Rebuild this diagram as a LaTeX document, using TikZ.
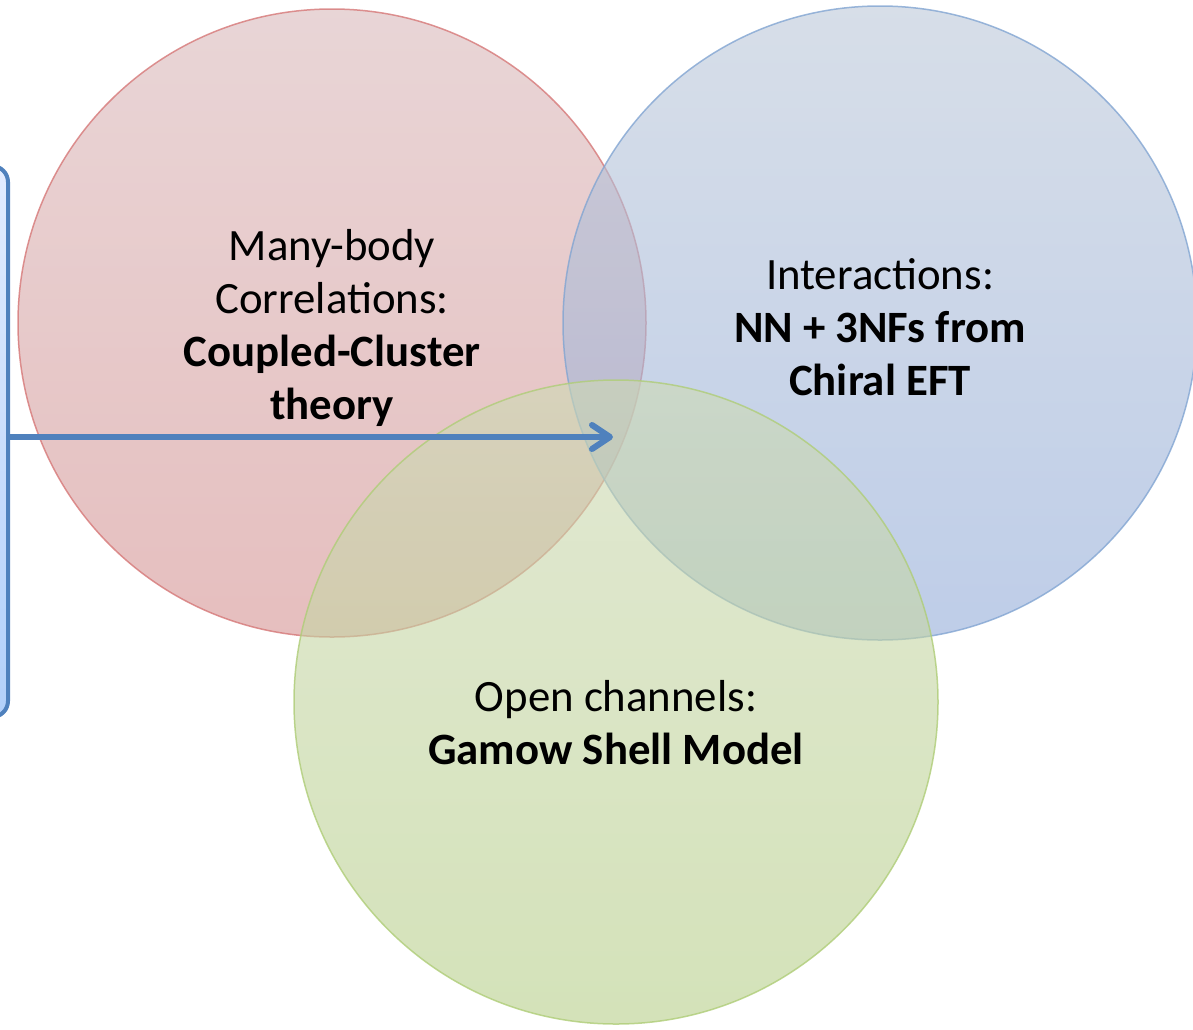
\documentclass[tikz,border=0pt]{standalone}
\usepackage{fontspec}
\setmainfont{Carlito}
\usetikzlibrary{arrows.meta}

\definecolor{redtop}{RGB}{217,185,187}
\definecolor{redbot}{RGB}{213,147,147}
\definecolor{redline}{RGB}{214,120,120}
\definecolor{bluetop}{RGB}{188,200,217}
\definecolor{bluebot}{RGB}{147,172,217}
\definecolor{blueline}{RGB}{130,165,210}
\definecolor{greentop}{RGB}{205,217,180}
\definecolor{greenbot}{RGB}{183,207,138}
\definecolor{greenline}{RGB}{175,205,120}
\definecolor{boxtop}{RGB}{226,236,255}
\definecolor{boxbot}{RGB}{178,208,250}
\definecolor{arrowblue}{RGB}{79,129,189}

\begin{document}
\begin{tikzpicture}[x=0.5pt, y=-0.5pt, >=latex, thick,
    venn/.style={circle, draw, line width=0.75pt, minimum size=#1,
        inner sep=0pt, outer sep=0pt, fill opacity=0.6, draw opacity=0.8},
    venntext/.style={align=center, font=\fontsize{22.4}{26.5}\selectfont}]
    \useasboundingbox (0,0) rectangle (1193,1029);
    \clip (0,0) rectangle (1193,1029);

    % Side box (cut off at the left)
    \node[draw=arrowblue, line width=2pt, rounded corners=8pt,
          top color=boxtop, bottom color=boxbot,
          minimum width=24pt, minimum height=275.5pt] (box) at (-16,441.5) {};

    % Correlations circle
    \node[venn=314pt, draw=redline, top color=redtop, bottom color=redbot] (corr) at (332,323) {};

    % Interactions circle
    \node[venn=317pt, draw=blueline, top color=bluetop, bottom color=bluebot] (inter) at (880,323) {};

    % Open channels circle
    \node[venn=322pt, draw=greenline, top color=greentop, bottom color=greenbot] (open) at (616,702) {};

    % Texts
    \node[venntext] (corrtext) at (332,328) {Many-body\\Correlations:\\\textbf{Coupled-Cluster}\\\textbf{theory}};
    \node[venntext] (intertext) at (880,327) {Interactions:\\\textbf{NN + 3NFs from}\\\textbf{Chiral EFT}};
    \node[venntext] (opentext) at (616,723) {Open channels:\\\textbf{Gamow Shell Model}};

    % Arrow from the box
    \coordinate (tip) at (613,437);
    \draw[-{Straight Barb[length=9pt, width=12pt, round]}, arrowblue, line width=3pt]
        (box.east |- tip) -- (tip);
\end{tikzpicture}
\end{document}
